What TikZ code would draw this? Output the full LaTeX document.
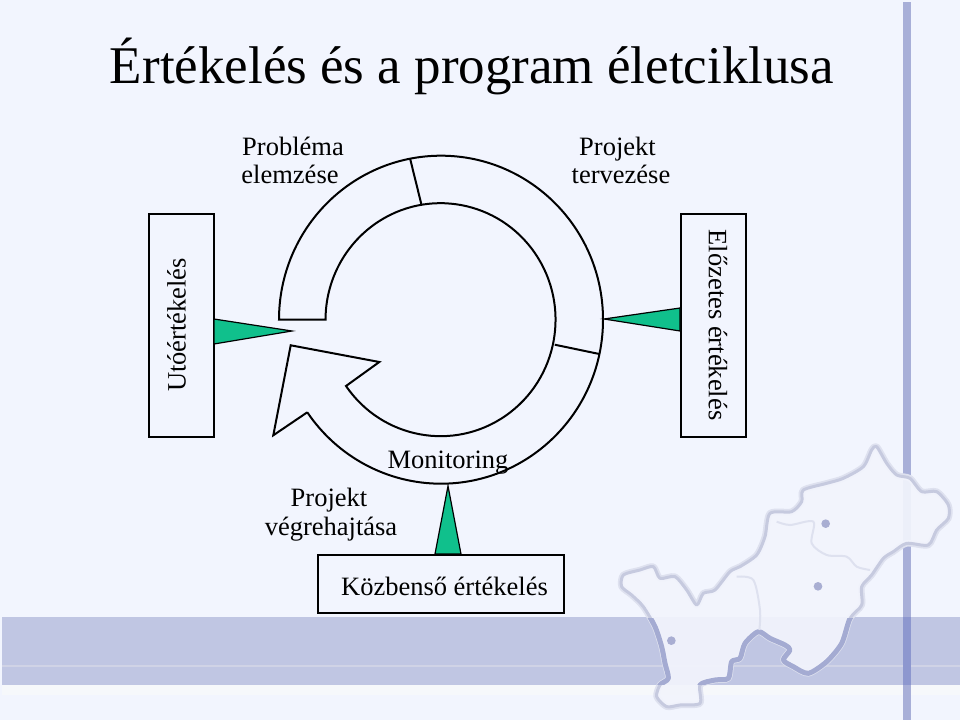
\documentclass[tikz,border=0pt]{standalone}
\usepackage{fontspec}
\setmainfont{Liberation Serif}
\definecolor{bgcol}{HTML}{F2F5FE}
\definecolor{bandcol}{HTML}{C0C6E3}
\definecolor{bandline}{HTML}{D0D3E6}
\definecolor{barcol}{HTML}{A8AFD8}
\definecolor{crosscol}{HTML}{8D97CF}
\definecolor{wedgecol}{HTML}{10C08C}
\definecolor{mapedge}{HTML}{C6CADF}
\definecolor{mapglow}{HTML}{DEE1EF}
\definecolor{mapdark}{HTML}{A4ABD2}
\definecolor{mapfill}{HTML}{F2F4FC}
\definecolor{dotcol}{HTML}{A9AED2}
\tikzset{
  x=1pt,y=1pt,
  body/.style={font=\fontsize{26.5}{28}\selectfont,inner sep=0pt,text=black},
  lbl/.style={body,align=center},
  evalbox/.style={draw=black,line width=2pt,fill=bgcol,inner sep=0pt,body},
  wedge/.style={fill=wedgecol,draw=black,line width=1.2pt,line join=miter},
  ring/.style={draw=black,line width=2pt,line join=miter},
}
\newcommand{\mapoutline}{plot[smooth cycle,tension=.45] coordinates {
(830,50)(860,100)(890,135)(930,145)(965,185)(1010,185)(1045,225)(1045,265)(1010,300)(985,345)(920,340)(880,365)(850,385)(815,435)(785,470)(785,525)(750,565)(725,640)(680,695)(625,730)(580,710)(550,690)(570,660)(555,645)(510,625)(475,605)(435,640)(420,685)(395,695)(385,745)(345,750)(300,765)(300,820)(240,825)(200,830)(170,800)(180,765)(205,745)(195,700)(185,650)(165,590)(130,530)(95,495)(65,470)(70,435)(120,420)(160,410)(180,445)(225,440)(260,480)(290,525)(310,490)(345,480)(390,425)(420,410)(470,375)(495,320)(510,250)(575,245)(605,215)(610,180)(680,160)(730,145)(790,110)(815,60)}}
\begin{document}
\begin{tikzpicture}
\useasboundingbox (0,0) rectangle (960,720);
% background
\fill[bgcol] (0,0) rectangle (960,720);
\fill[bandcol] (2,35) rectangle (960,103);
\fill[black!2!white,opacity=.6] (2,25) rectangle (960,35);
\fill[bandline] (2,53.5) rectangle (960,55);
\fill[barcol] (903,0) rectangle (911,718);
\fill[crosscol] (903,35) rectangle (911,103);
% map
\begin{scope}[shift={(600,290)},xscale=1/3,yscale=-1/3]
\draw[mapglow,line width=6.5pt,line join=round] \mapoutline;
\fill[mapfill,opacity=.93] \mapoutline;
\draw[mapedge,line width=3pt,line join=round] \mapoutline;
\begin{scope}
\clip (0,565) rectangle (1080,765);
\draw[mapdark,line width=5pt,line join=round] \mapoutline;
\end{scope}
\draw[mapglow,line width=2pt] plot[smooth,tension=.5] coordinates {(530,275)(570,285)(640,275)(635,340)(680,375)(740,380)(770,410)(810,420)};
\draw[mapglow,line width=2pt] plot[smooth,tension=.5] coordinates {(410,440)(460,450)(480,540)(478,600)};
\fill[dotcol] (677,281) circle (13);
\fill[dotcol] (654,469) circle (13);
\fill[dotcol] (214,632) circle (13);
\end{scope}
% title
\node[anchor=base,inner sep=0pt,text=black,font=\fontsize{53}{56}\selectfont] (title) at (472,636) {Értékelés és a program életciklusa};
% ring arrow
\draw[ring,fill=bgcol] (279,400.3) arc[start angle=180,end angle=-145.4,x radius=162,y radius=164]
  -- (306.7,307.3) -- (273.3,284.7) -- (290.7,374.7) -- (379.3,358) -- (346,334)
  arc[start angle=-145.3,end angle=180,x radius=115,y radius=116.5] -- cycle;
\coordinate (d1o) at (410,561.7);
\coordinate (d1i) at (421.3,516);
\coordinate (d2o) at (599.3,366);
\coordinate (d2i) at (554.7,375.3);
\draw[ring] (d1o) -- (d1i);
\draw[ring] (d2o) -- (d2i);
% boxes
\node[evalbox,minimum width=65,minimum height=223] (post) at (181.5,394.5) {};
\node[evalbox,minimum width=65,minimum height=223] (pre) at (713.5,394.5) {};
\node[evalbox,minimum width=246,minimum height=58] (mid) at (441,136) {};
\node[body,rotate=90] at (176.5,395) {Utóértékelés};
\node[body,rotate=-90] at (718,395) {Előzetes értékelés};
\node[body] at (444.5,134) {Közbenső értékelés};
% wedges
\coordinate (tipl) at (292,389);
\coordinate (tipr) at (604,401);
\coordinate (tipb) at (448,234);
\draw[wedge] (214,401) -- (214,376) -- (tipl) -- cycle;
\draw[wedge] (680,412) -- (680,389) -- (tipr) -- cycle;
\draw[wedge] (435,166) -- (461,166) -- (tipb) -- cycle;
% labels
\node[lbl] (l1) at (293,559.5) {Probléma\\elemzése\hspace*{6pt}};
\node[lbl] (l2) at (621,559.5) {Projekt\hspace*{7pt}\\tervezése};
\node[lbl] (l3) at (331,205.5) {Projekt\hspace*{4pt}\\[1pt]végrehajtása};
\node[body] (l4) at (448,257) {Monitoring};
\end{tikzpicture}
\end{document}
